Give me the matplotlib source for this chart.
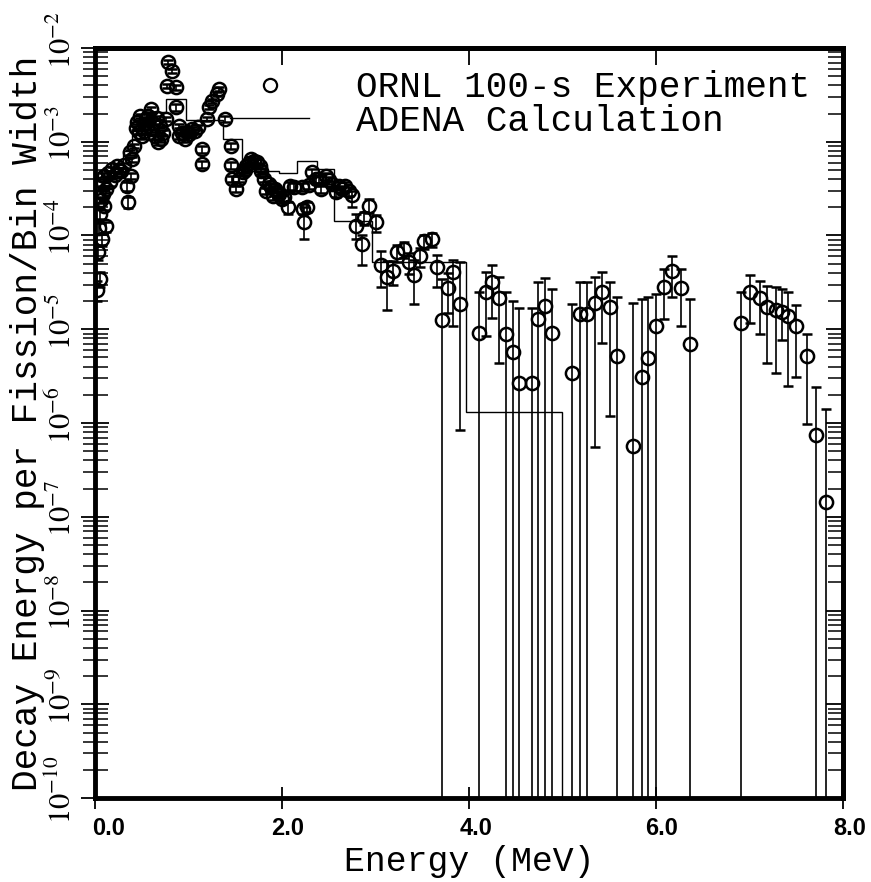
import matplotlib
matplotlib.use("Agg")
import matplotlib.pyplot as plt
import matplotlib.transforms as mtransforms
from matplotlib.lines import Line2D
from matplotlib.ticker import FixedLocator, FixedFormatter, LogLocator, NullFormatter
import numpy as np

# ---------------- data ----------------
# ORNL 100-s experiment: energy (MeV), value, lower end of error bar, upper end of error bar
# (lower end 0 -> bar extends off the bottom of the log axis)
energy = [0.02, 0.03, 0.05, 0.05, 0.07, 0.08, 0.10, 0.10, 0.12, 0.12,
          0.155, 0.18, 0.21, 0.24, 0.28, 0.34, 0.35, 0.37, 0.39, 0.40,
          0.42, 0.45, 0.475, 0.50, 0.53, 0.55, 0.60, 0.60, 0.64, 0.67,
          0.69, 0.71, 0.76, 0.775, 0.785, 0.82, 0.87, 0.87, 0.90, 0.90,
          0.96, 0.98, 1.04, 1.10, 1.14, 1.14, 1.20, 1.22, 1.255, 1.30,
          1.33, 1.39, 1.45, 1.45, 1.47, 1.51, 1.54, 1.58, 1.62, 1.67,
          1.73, 1.78, 1.81, 1.83, 1.86, 1.90, 1.92, 1.97, 2.025, 2.06,
          2.08, 2.13, 2.21, 2.22, 2.23, 2.27, 2.29, 2.32, 2.40, 2.42,
          2.47, 2.53, 2.58, 2.61, 2.67, 2.72, 2.75, 2.79, 2.85, 2.88,
          2.93, 3.00, 3.06, 3.125, 3.19, 3.23, 3.30, 3.36, 3.41, 3.48,
          3.52, 3.60, 3.66, 3.71, 3.78, 3.83, 3.905, 4.11, 4.18, 4.25,
          4.32, 4.40, 4.47, 4.53, 4.67, 4.74, 4.81, 4.89, 5.10, 5.19,
          5.26, 5.35, 5.42, 5.51, 5.58, 5.75, 5.85, 5.91, 6.00, 6.08,
          6.17, 6.27, 6.36, 6.91, 7.01, 7.11, 7.19, 7.28, 7.35, 7.41,
          7.50, 7.61, 7.71, 7.82,
          0.04, 0.06, 0.09, 0.14, 0.26, 0.31, 0.44, 0.48, 0.52, 0.57,
          0.62, 0.66, 0.73, 0.93, 1.01, 1.07, 1.60, 1.65, 1.70, 1.76,
          1.88, 1.95, 2.00, 2.36, 2.50, 2.64]
value = [2.6e-5, 6.6e-5, 3.4e-5, 1.7e-4, 9.1e-5, 2.75e-4, 2.05e-4, 4.3e-4, 1.25e-4, 3.1e-4,
         3.7e-4, 5.1e-4, 4.4e-4, 5.5e-4, 4.85e-4, 3.36e-4, 2.26e-4, 7.7e-4, 4.3e-4, 6.5e-4,
         9.0e-4, 1.62e-3, 1.27e-3, 1.15e-3, 1.55e-3, 1.74e-3, 2.23e-3, 1.36e-3, 1.15e-3, 9.9e-4,
         1.47e-3, 1.07e-3, 1.74e-3, 3.9e-3, 7.1e-3, 5.7e-3, 3.8e-3, 2.34e-3, 1.47e-3, 1.15e-3,
         1.07e-3, 1.27e-3, 1.36e-3, 1.43e-3, 8.3e-4, 5.8e-4, 1.74e-3, 2.34e-3, 2.72e-3, 3.23e-3,
         3.65e-3, 1.74e-3, 9.0e-4, 5.6e-4, 3.98e-4, 3.12e-4, 3.98e-4, 4.73e-4, 5.5e-4, 6.5e-4,
         6.05e-4, 4.85e-4, 3.98e-4, 2.97e-4, 3.52e-4, 2.62e-4, 3.12e-4, 2.75e-4, 2.56e-4, 2.0e-4,
         3.36e-4, 3.27e-4, 3.27e-4, 1.91e-4, 1.38e-4, 2.0e-4, 3.44e-4, 4.73e-4, 3.98e-4, 3.12e-4,
         4.29e-4, 3.52e-4, 2.89e-4, 3.36e-4, 3.36e-4, 2.97e-4, 2.69e-4, 1.25e-4, 8.05e-5, 1.53e-4,
         2.05e-4, 1.38e-4, 4.9e-5, 3.57e-5, 4.15e-5, 6.6e-5, 7.1e-5, 5.2e-5, 3.76e-5, 6.0e-5,
         8.7e-5, 9.1e-5, 4.57e-5, 1.26e-5, 2.77e-5, 4.05e-5, 1.84e-5, 9.2e-6, 2.47e-5, 3.16e-5,
         2.13e-5, 8.8e-6, 5.65e-6, 2.7e-6, 2.7e-6, 1.3e-5, 1.75e-5, 9.2e-6, 3.45e-6, 1.44e-5,
         1.44e-5, 1.89e-5, 2.47e-5, 1.71e-5, 5.2e-6, 5.7e-7, 3.1e-6, 4.9e-6, 1.07e-5, 2.8e-5,
         4.15e-5, 2.77e-5, 6.9e-6, 1.18e-5, 2.5e-5, 2.13e-5, 1.71e-5, 1.59e-5, 1.51e-5, 1.37e-5,
         1.07e-5, 5.2e-6, 7.5e-7, 1.45e-7,
         1.2e-4, 2.4e-4, 3.6e-4, 4.6e-4, 5.0e-4, 5.6e-4, 1.4e-3, 1.9e-3, 1.3e-3, 1.9e-3,
         1.6e-3, 1.8e-3, 1.25e-3, 1.25e-3, 1.2e-3, 1.3e-3, 5.0e-4, 6.0e-4, 6.3e-4, 5.5e-4,
         3.3e-4, 2.9e-4, 2.45e-4, 4.0e-4, 3.9e-4, 3.1e-4]
err_low_end = [2.0e-5, 5.5e-5, 2.8e-5, 1.5e-4, 7.8e-5, 2.5e-4, 1.85e-4, 4.0e-4, 1.1e-4, 2.85e-4,
               3.4e-4, 4.8e-4, 4.1e-4, 5.2e-4, 4.5e-4, 3.0e-4, 1.95e-4, 7.2e-4, 4.0e-4, 6.1e-4,
               8.5e-4, 1.53e-3, 1.2e-3, 1.08e-3, 1.46e-3, 1.65e-3, 2.1e-3, 1.28e-3, 1.08e-3, 9.3e-4,
               1.39e-3, 1.0e-3, 1.65e-3, 3.7e-3, 6.7e-3, 5.4e-3, 3.6e-3, 2.15e-3, 1.39e-3, 1.08e-3,
               1.0e-3, 1.2e-3, 1.28e-3, 1.35e-3, 7.6e-4, 5.3e-4, 1.65e-3, 2.22e-3, 2.58e-3, 3.07e-3,
               3.47e-3, 1.62e-3, 8.3e-4, 5.1e-4, 3.7e-4, 2.9e-4, 3.7e-4, 4.4e-4, 5.1e-4, 6.1e-4,
               5.6e-4, 4.5e-4, 3.7e-4, 2.75e-4, 3.25e-4, 2.4e-4, 2.9e-4, 2.5e-4, 2.3e-4, 1.68e-4,
               3.05e-4, 2.95e-4, 2.95e-4, 1.7e-4, 9.1e-5, 1.78e-4, 3.1e-4, 4.35e-4, 3.65e-4, 2.85e-4,
               3.95e-4, 3.2e-4, 2.6e-4, 3.05e-4, 3.0e-4, 2.65e-4, 2.0e-4, 9.1e-5, 4.9e-5, 1.3e-4,
               1.75e-4, 1.1e-4, 2.8e-5, 1.6e-5, 3.0e-5, 5.2e-5, 5.7e-5, 3.9e-5, 1.84e-5, 4.6e-5,
               7.2e-5, 7.6e-5, 2.85e-5, 0.0, 1.5e-5, 1.07e-5, 8.5e-7, 0.0, 8.4e-6, 1.32e-5,
               4.4e-6, 0.0, 0.0, 0.0, 0.0, 0.0, 0.0, 0.0, 0.0, 0.0,
               0.0, 5.6e-7, 7.2e-6, 1.2e-6, 0.0, 0.0, 0.0, 0.0, 0.0, 1.3e-5,
               2.2e-5, 1.07e-5, 0.0, 0.0, 1.18e-5, 8.8e-6, 4.4e-6, 3.45e-6, 7.7e-6, 2.5e-6,
               3.1e-6, 9.8e-7, 0.0, 0.0,
               1.05e-4, 2.2e-4, 3.35e-4, 4.3e-4, 4.7e-4, 5.2e-4, 1.32e-3, 1.8e-3, 1.22e-3, 1.8e-3,
               1.5e-3, 1.7e-3, 1.17e-3, 1.17e-3, 1.12e-3, 1.22e-3, 4.65e-4, 5.6e-4, 5.9e-4, 5.1e-4,
               3.05e-4, 2.65e-4, 2.2e-4, 3.65e-4, 3.55e-4, 2.8e-4]
err_high_end = [3.3e-5, 7.8e-5, 4.1e-5, 1.9e-4, 1.05e-4, 3.0e-4, 2.25e-4, 4.6e-4, 1.4e-4, 3.35e-4,
                4.0e-4, 5.4e-4, 4.7e-4, 5.8e-4, 5.2e-4, 3.7e-4, 2.6e-4, 8.2e-4, 4.6e-4, 6.9e-4,
                9.5e-4, 1.71e-3, 1.34e-3, 1.22e-3, 1.64e-3, 1.83e-3, 2.36e-3, 1.44e-3, 1.22e-3, 1.05e-3,
                1.55e-3, 1.14e-3, 1.83e-3, 4.1e-3, 7.5e-3, 6.0e-3, 4.0e-3, 2.55e-3, 1.55e-3, 1.22e-3,
                1.14e-3, 1.34e-3, 1.44e-3, 1.51e-3, 9.0e-4, 6.3e-4, 1.83e-3, 2.46e-3, 2.86e-3, 3.39e-3,
                3.83e-3, 1.86e-3, 9.7e-4, 6.1e-4, 4.3e-4, 3.35e-4, 4.3e-4, 5.1e-4, 5.9e-4, 6.9e-4,
                6.5e-4, 5.2e-4, 4.3e-4, 3.2e-4, 3.8e-4, 2.85e-4, 3.35e-4, 3.0e-4, 2.8e-4, 2.3e-4,
                3.7e-4, 3.6e-4, 3.6e-4, 2.15e-4, 2.0e-4, 2.25e-4, 3.8e-4, 5.1e-4, 4.3e-4, 3.4e-4,
                4.65e-4, 3.85e-4, 3.2e-4, 3.7e-4, 3.7e-4, 3.3e-4, 3.0e-4, 1.68e-4, 1.0e-4, 1.8e-4,
                2.44e-4, 1.65e-4, 6.8e-5, 5.3e-5, 5.4e-5, 8.0e-5, 8.5e-5, 6.5e-5, 5.5e-5, 7.4e-5,
                1.02e-4, 1.06e-4, 6.2e-5, 3.4e-5, 4.0e-5, 5.5e-5, 5.2e-5, 2.5e-5, 4.05e-5, 4.8e-5,
                3.6e-5, 2.47e-5, 2.0e-5, 1.7e-5, 1.7e-5, 3.2e-5, 3.5e-5, 2.66e-5, 1.84e-5, 3.2e-5,
                3.2e-5, 3.6e-5, 4.05e-5, 3.2e-5, 2.2e-5, 1.9e-5, 2.1e-5, 2.2e-5, 2.4e-5, 4.4e-5,
                6.0e-5, 4.4e-5, 2.1e-5, 2.5e-5, 3.8e-5, 3.3e-5, 2.9e-5, 2.8e-5, 2.66e-5, 2.47e-5,
                1.8e-5, 9.0e-6, 2.4e-6, 1.4e-6,
                1.35e-4, 2.6e-4, 3.85e-4, 4.9e-4, 5.3e-4, 6.0e-4, 1.48e-3, 2.0e-3, 1.38e-3, 2.0e-3,
                1.7e-3, 1.9e-3, 1.33e-3, 1.33e-3, 1.28e-3, 1.38e-3, 5.35e-4, 6.4e-4, 6.7e-4, 5.9e-4,
                3.55e-4, 3.15e-4, 2.7e-4, 4.35e-4, 4.25e-4, 3.4e-4]

# ADENA calculation (histogram): bin edges (MeV) and values
calc_edges = [0.0, 0.1, 0.2, 0.3, 0.4, 0.5, 0.6, 0.76, 0.97, 1.37, 1.57, 1.97,
              2.16, 2.37, 2.56, 2.96, 3.97, 4.99, 8.0]
calc_values = [3.8e-4, 4.6e-4, 5.2e-4, 8.0e-4, 1.3e-3, 1.6e-3, 2.1e-3, 2.85e-3, 1.72e-3,
               1.07e-3, 4.85e-4, 4.6e-4, 6.2e-4, 5.1e-4, 1.42e-4, 5.2e-5, 1.3e-6, 0.0]

x_ticks = [0.0, 2.0, 4.0, 6.0, 8.0]
x_tick_labels = ["0.0", "2.0", "4.0", "6.0", "8.0"]
x_top_ticks = [2.0, 4.0, 6.0]
y_ticks = [1e-10, 1e-9, 1e-8, 1e-7, 1e-6, 1e-5, 1e-4, 1e-3, 1e-2]
y_tick_labels = [r"$10^{-10}$", r"$10^{-9}$", r"$10^{-8}$", r"$10^{-7}$", r"$10^{-6}$",
                 r"$10^{-5}$", r"$10^{-4}$", r"$10^{-3}$", r"$10^{-2}$"]
legend_labels = ["ORNL 100-s Experiment", "ADENA Calculation"]
x_label = "Energy (MeV)"
y_label = "Decay Energy per Fission/Bin Width"

# ---------------- plot ----------------
plt.rcParams["mathtext.fontset"] = "stix"
MONO = "Liberation Mono"

fig = plt.figure(figsize=(8.71, 8.82), dpi=100)
ax = fig.add_axes([0.1091, 0.0952, 0.9679 - 0.1091, 0.9456 - 0.0952])
ax.set_yscale("log", nonpositive="clip")
ax.set_xlim(0, 8)
ax.set_ylim(1e-10, 1e-2)

e = np.array(energy)
v = np.array(value)
lo = np.array(err_low_end)
hi = np.array(err_high_end)
ax.errorbar(e, v, yerr=[v - lo, hi - v], fmt="o", ms=9.5, mfc="none", mec="k", mew=1.8,
            ecolor="k", elinewidth=1.2, capsize=3.5, capthick=1.2, zorder=3)

ax.stairs(calc_values, calc_edges, baseline=None, color="k", lw=1.0, zorder=2)

for s in ax.spines.values():
    s.set_linewidth(3.5)

# bottom / left ticks
ax.set_xticks(x_ticks)
ax.set_xticklabels(x_tick_labels, fontfamily="Liberation Sans", fontweight="bold", fontsize=17)
ax.tick_params(axis="x", which="major", direction="inout", length=16, width=1.3,
               top=False, bottom=True, pad=6)
ax.yaxis.set_major_locator(FixedLocator(y_ticks))
ax.yaxis.set_major_formatter(FixedFormatter(y_tick_labels))
ax.yaxis.set_minor_locator(LogLocator(base=10, subs=np.arange(2, 10), numticks=100))
ax.yaxis.set_minor_formatter(NullFormatter())
ax.tick_params(axis="y", which="major", direction="inout", length=20, width=1.3,
               left=True, right=False, pad=3, labelsize=22, labelrotation=90)
ax.tick_params(axis="y", which="minor", direction="inout", length=18, width=1.1,
               left=True, right=False)
for lbl in ax.get_yticklabels():
    lbl.set_va("center")

# top / right inward ticks
secx = ax.secondary_xaxis("top")
secx.set_xticks(x_top_ticks)
secx.tick_params(direction="in", length=12, width=1.3, labeltop=False)
secx.spines["top"].set_linewidth(3.5)
secy = ax.secondary_yaxis("right")
secy.tick_params(which="both", direction="in", labelright=False)
secy.tick_params(which="major", length=12, width=1.3)
secy.tick_params(which="minor", length=11, width=1.1)
secy.spines["right"].set_linewidth(3.5)

ax.set_xlabel(x_label, fontfamily=MONO, fontsize=25)
ax.xaxis.set_label_coords(0.5, -0.062)
ax.set_ylabel(y_label, fontfamily=MONO, fontsize=26)
ax.yaxis.set_label_coords(-0.067, 0.5)

handles = [Line2D([], [], ls="none", marker="o", ms=9.5, mfc="none", mec="k", mew=1.6),
           Line2D([], [], color="k", lw=1.0)]
ax.legend(handles, legend_labels, loc="upper left",
          bbox_to_anchor=((230 - 95) / 748, 0.970), frameon=False, borderpad=0,
          borderaxespad=0, handlelength=2.2, handletextpad=1.3, labelspacing=-0.045,
          prop={"family": MONO, "size": 26})

fig.canvas.draw()
secy.yaxis.set_minor_locator(LogLocator(base=10, subs=np.arange(2, 10), numticks=100))
secy.yaxis.set_major_locator(FixedLocator(y_ticks))
secy.yaxis.set_minor_formatter(NullFormatter())
off = mtransforms.ScaledTranslation(0, 8 / 100, fig.dpi_scale_trans)
for t in ax.yaxis.get_major_ticks():
    t.label1.set_transform(t.label1.get_transform() + off)
# x tick labels sit slightly right of their ticks in the reference
x_label_shift = [14, 6, 7, 6, 7]
for t, dx in zip(ax.xaxis.get_major_ticks(), x_label_shift):
    t.label1.set_transform(t.label1.get_transform()
                           + mtransforms.ScaledTranslation(dx / 100, 0, fig.dpi_scale_trans))

fig.savefig("out.png", dpi=100)
